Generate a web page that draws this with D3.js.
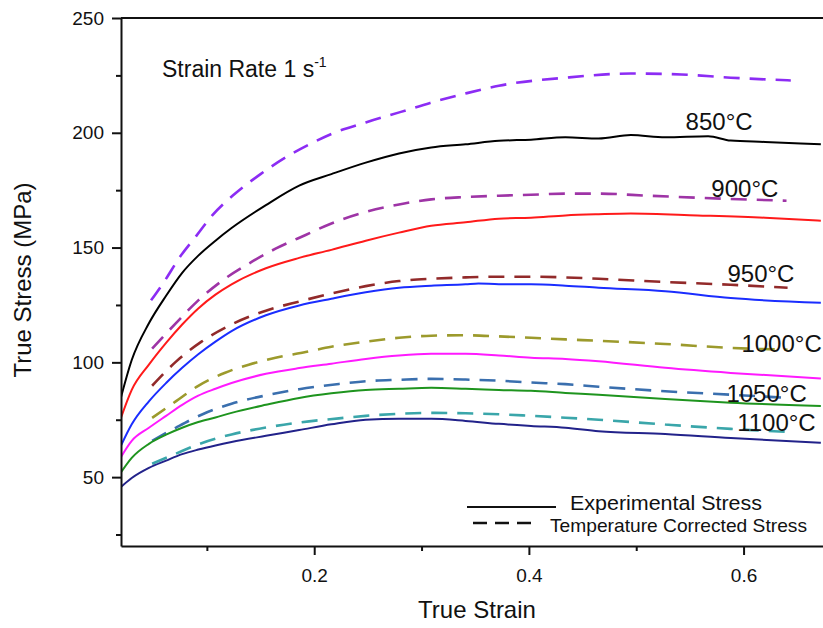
<!DOCTYPE html>
<html>
<head>
<meta charset="utf-8">
<script src="https://cdn.jsdelivr.net/npm/d3@7/dist/d3.min.js"></script>
<style>
  body { margin: 0; background: #fff; }
  text { font-family: "Liberation Sans", Arial, sans-serif; fill: #111; }
</style>
</head>
<body>
<div class="chart"></div>
<script>
// experimental stress (solid), [true strain, true stress MPa]
var exp850 = [[0.019,83],[0.03,101],[0.046,117],[0.062,129],[0.077,139],[0.092,146.5],[0.108,153],[0.123,158.5],[0.155,168.5],[0.186,177],[0.216,182],[0.248,187],[0.279,191],[0.309,193.6],[0.341,195],[0.372,196.5],[0.402,197],[0.434,198],[0.465,197.5],[0.495,199],[0.527,198],[0.567,198.5],[0.588,196.6],[0.62,196],[0.672,195]];
var exp900 = [[0.019,74.5],[0.03,88],[0.046,99],[0.062,108.5],[0.077,116.5],[0.092,123.5],[0.108,129.5],[0.123,134],[0.155,141],[0.186,145.5],[0.216,149],[0.248,153],[0.279,156.5],[0.309,159.5],[0.341,161],[0.372,162.6],[0.402,163],[0.434,164],[0.465,164.5],[0.495,164.8],[0.557,164],[0.62,163],[0.672,161.7]];
var exp950 = [[0.019,62.7],[0.03,73],[0.046,83],[0.062,91],[0.077,97.6],[0.092,103.5],[0.108,109],[0.123,113.6],[0.155,120.5],[0.186,124.8],[0.216,127.7],[0.248,130.5],[0.279,132.5],[0.309,133.4],[0.341,134],[0.353,134.4],[0.372,134],[0.402,134],[0.434,133.4],[0.465,132.5],[0.527,131],[0.588,128],[0.672,126]];
var exp1000 = [[0.019,58],[0.03,65.8],[0.046,71.5],[0.062,76.7],[0.077,81.5],[0.092,85.5],[0.108,88.5],[0.123,91],[0.155,95],[0.186,97.5],[0.216,99.4],[0.248,101.5],[0.279,103],[0.309,103.7],[0.341,103.7],[0.372,103],[0.402,102],[0.434,101.5],[0.465,100.5],[0.527,97.6],[0.588,95.4],[0.672,93]];
var exp1050 = [[0.019,51.4],[0.03,58.4],[0.046,64.5],[0.062,68.5],[0.077,71.5],[0.092,74],[0.108,76],[0.123,78],[0.155,81.5],[0.186,84.5],[0.216,86.5],[0.248,88],[0.279,88.5],[0.309,88.9],[0.341,88.5],[0.372,88],[0.402,87.6],[0.434,86.7],[0.465,85.9],[0.527,84],[0.588,82.4],[0.672,81]];
var exp1100 = [[0.019,45.3],[0.03,49.6],[0.046,54],[0.062,57.2],[0.077,60],[0.092,62],[0.108,63.8],[0.123,65.3],[0.155,68],[0.186,70.5],[0.216,73],[0.248,75],[0.279,75.4],[0.309,75.4],[0.341,74.5],[0.372,73.2],[0.402,72.3],[0.434,71.5],[0.465,70],[0.527,68.8],[0.588,67],[0.672,65]];

// temperature corrected stress (dashed)
var tc850 = [[0.048,127],[0.06,135],[0.075,146],[0.09,155],[0.105,164],[0.125,173],[0.15,182],[0.176,190],[0.2,196],[0.216,199.5],[0.248,204.5],[0.28,209],[0.308,213],[0.34,217],[0.372,220.5],[0.434,224],[0.495,225.8],[0.542,225.4],[0.588,224],[0.644,222.8]];
var tc900 = [[0.049,106],[0.071,117],[0.092,127],[0.117,136.5],[0.139,143],[0.164,149.5],[0.192,155.5],[0.216,160.5],[0.248,165.5],[0.279,168.8],[0.309,171],[0.341,172],[0.372,172.6],[0.402,173],[0.434,173.5],[0.465,173.5],[0.511,172.6],[0.557,171.7],[0.64,170.4]];
var tc950 = [[0.049,89.8],[0.071,100.2],[0.095,109],[0.123,116.5],[0.155,122.5],[0.186,126.5],[0.216,130],[0.248,133.2],[0.279,135.4],[0.309,136.4],[0.341,137],[0.372,137.3],[0.402,137.3],[0.434,137],[0.465,136.4],[0.527,135],[0.588,133.8],[0.641,132.5]];
var tc1000 = [[0.049,75.8],[0.071,83],[0.092,89.8],[0.117,95.5],[0.139,99],[0.164,102],[0.192,104.5],[0.216,106.8],[0.248,109],[0.279,110.7],[0.309,111.6],[0.341,111.8],[0.372,111.3],[0.402,110.7],[0.434,110],[0.465,109.4],[0.527,108],[0.588,106.3],[0.641,105.5]];
var tc1050 = [[0.049,65.8],[0.071,71.5],[0.095,77.2],[0.123,82],[0.155,85.6],[0.186,88.3],[0.223,90.6],[0.248,91.8],[0.279,92.4],[0.309,92.8],[0.341,92.5],[0.372,92],[0.402,91.2],[0.434,90.5],[0.465,89.4],[0.527,87.4],[0.588,85.9],[0.641,84.5]];
var tc1100 = [[0.049,55.8],[0.071,60.2],[0.095,64.8],[0.123,68.6],[0.155,71.6],[0.186,73.8],[0.223,75.6],[0.248,76.7],[0.279,77.6],[0.309,78],[0.341,77.8],[0.372,77.4],[0.402,76.7],[0.434,75.9],[0.465,75],[0.527,72.9],[0.588,71],[0.641,69.7]];

var temps = ["850", "900", "950", "1000", "1050", "1100"];
// label anchor: [strain of text start, stress at baseline]
var labelPos = [[0.546,201.4],[0.570,172.2],[0.585,135.1],[0.598,104.6],[0.584,82.8],[0.594,70.2]];

var yMajor = [50, 100, 150, 200, 250];
var yMinor = [25, 75, 125, 175, 225];
var xMajor = [0.2, 0.4, 0.6];
var xMinor = [0.1, 0.3, 0.5];

var expColors = ["#000000", "#ff1a1a", "#1a2dff", "#ff1aff", "#1e941e", "#22228a"];
var tcColors  = ["#8c2cf4", "#9e34a6", "#922a2a", "#9c9a2c", "#3a6fae", "#3aa6aa"];

var w = 823, h = 628;

var svg = d3.select(".chart")
    .append("svg")
    .attr("width", w)
    .attr("height", h);

var x = d3.scaleLinear().domain([0.02, 0.674]).range([121, 823]);
var y = d3.scaleLinear().domain([20, 250]).range([546, 18]);

svg.append("clipPath").attr("id", "plot")
    .append("rect")
    .attr("x", x.range()[0]).attr("y", y.range()[1])
    .attr("width", x.range()[1] - x.range()[0])
    .attr("height", y.range()[0] - y.range()[1]);

var line = d3.line()
    .x(function (d) { return x(d[0]); })
    .y(function (d) { return y(d[1]); })
    .curve(d3.curveMonotoneX);

var series = [
    {exp: exp850, tc: tc850},
    {exp: exp900, tc: tc900},
    {exp: exp950, tc: tc950},
    {exp: exp1000, tc: tc1000},
    {exp: exp1050, tc: tc1050},
    {exp: exp1100, tc: tc1100}
];

var plot = svg.append("g").attr("clip-path", "url(#plot)");

series.forEach(function (s, i) {
    plot.append("path")
        .attr("d", line(s.tc))
        .attr("fill", "none")
        .attr("stroke", tcColors[i])
        .attr("stroke-width", 2.6)
        .attr("stroke-dasharray", "16,10");
    plot.append("path")
        .attr("d", line(s.exp))
        .attr("fill", "none")
        .attr("stroke", expColors[i])
        .attr("stroke-width", 2)
        .attr("stroke-linejoin", "round");
});

// temperature labels
svg.selectAll(".tlabel")
    .data(temps)
    .enter().append("text")
    .attr("class", "tlabel")
    .attr("x", function (d, i) { return x(labelPos[i][0]); })
    .attr("y", function (d, i) { return y(labelPos[i][1]); })
    .style("font-size", "24px")
    .text(function (d) { return d + "\u00B0C"; });

// axes
svg.append("g")
    .attr("transform", "translate(" + x.range()[0] + ",0)")
    .call(d3.axisLeft(y).tickValues(yMajor).tickSize(9).tickPadding(8).tickSizeOuter(0));
svg.append("g")
    .attr("transform", "translate(" + x.range()[0] + ",0)")
    .call(d3.axisLeft(y).tickValues(yMinor).tickSize(5).tickFormat(""))
    .select(".domain").remove();

svg.append("g")
    .attr("transform", "translate(0," + y.range()[0] + ")")
    .call(d3.axisBottom(x).tickValues(xMajor).tickSize(9).tickPadding(14).tickSizeOuter(0)
        .tickFormat(d3.format(".1f")));
svg.append("g")
    .attr("transform", "translate(0," + y.range()[0] + ")")
    .call(d3.axisBottom(x).tickValues(xMinor).tickSize(5).tickFormat(""))
    .select(".domain").remove();

svg.selectAll(".domain").attr("stroke", "#111").attr("stroke-width", 2);
svg.selectAll(".tick line").attr("stroke", "#111").attr("stroke-width", 2);
svg.selectAll(".tick text")
    .style("font-size", "19px")
    .style("font-family", "'Liberation Sans', Arial, sans-serif")
    .attr("fill", "#111");

// top frame
svg.append("line")
    .attr("x1", x.range()[0]).attr("x2", x.range()[1])
    .attr("y1", y(250)).attr("y2", y(250))
    .attr("stroke", "#111").attr("stroke-width", 2);

// titles
svg.append("text")
    .attr("x", 477).attr("y", 618)
    .attr("text-anchor", "middle")
    .style("font-size", "24px")
    .text("True Strain");

svg.append("text")
    .attr("transform", "translate(31,280) rotate(-90)")
    .attr("text-anchor", "middle")
    .style("font-size", "24px")
    .text("True Stress (MPa)");

var title = svg.append("text")
    .attr("x", 162).attr("y", 77)
    .style("font-size", "23px");
title.append("tspan").text("Strain Rate 1 s");
title.append("tspan").attr("dy", -10).style("font-size", "14px").text("-1");

// legend
svg.append("line")
    .attr("x1", 467).attr("x2", 556).attr("y1", 507).attr("y2", 507)
    .attr("stroke", "#111").attr("stroke-width", 2);
svg.append("text")
    .attr("x", 570).attr("y", 510)
    .attr("textLength", 192)
    .attr("lengthAdjust", "spacingAndGlyphs")
    .style("font-size", "20px")
    .text("Experimental Stress");

svg.append("line")
    .attr("x1", 473).attr("x2", 533).attr("y1", 523).attr("y2", 523)
    .attr("stroke", "#111").attr("stroke-width", 2.4)
    .attr("stroke-dasharray", "14,8");
svg.append("text")
    .attr("x", 550).attr("y", 532)
    .attr("textLength", 257)
    .attr("lengthAdjust", "spacingAndGlyphs")
    .style("font-size", "19px")
    .text("Temperature Corrected Stress");
</script>
</body>
</html>
